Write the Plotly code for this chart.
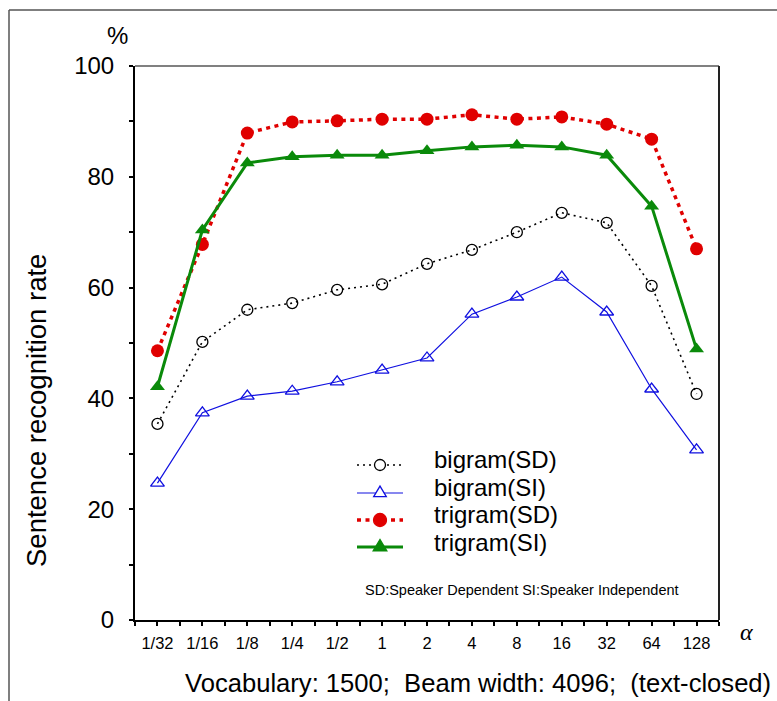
import plotly.graph_objects as go

# ---------------- data ----------------
categories = ["1/32", "1/16", "1/8", "1/4", "1/2", "1", "2", "4", "8", "16", "32", "64", "128"]
bigram_sd = [35.4, 50.2, 56.0, 57.2, 59.6, 60.6, 64.3, 66.8, 70.0, 73.5, 71.7, 60.3, 40.8]
bigram_si = [24.7, 37.4, 40.4, 41.3, 43.0, 45.1, 47.3, 55.2, 58.3, 61.9, 55.6, 41.7, 30.7]
trigram_sd = [48.6, 67.8, 87.9, 89.9, 90.1, 90.4, 90.4, 91.2, 90.4, 90.8, 89.5, 86.8, 67.0]
trigram_si = [42.1, 70.4, 82.5, 83.6, 83.9, 83.9, 84.7, 85.4, 85.7, 85.4, 83.9, 74.7, 48.9]
series_names = ["bigram(SD)", "bigram(SI)", "trigram(SD)", "trigram(SI)"]
y_ticks = [0, 20, 40, 60, 80, 100]

# ---------------- layout constants ----------------
W, H = 777, 701
ML, MR, MT, MB = 135, 58, 66, 81
PW = W - ML - MR
PH = H - MT - MB
FONT = "Liberation Sans, Arial, Helvetica, sans-serif"


def fx(xp):
    return (xp - ML) / PW


def fy(yp):
    return (MT + PH - yp) / PH


styles = [
    dict(line=dict(color="black", width=1.6, dash="2px,4px"),
         marker=dict(symbol="circle-open", size=11, color="black", line=dict(width=1.3))),
    dict(line=dict(color="#1010e0", width=1.2),
         marker=dict(symbol="triangle-up-open", size=12, color="#1010e0", line=dict(width=1.3))),
    dict(line=dict(color="#e00000", width=3.5, dash="4px,4.5px"),
         marker=dict(symbol="circle", size=13, color="#e00000")),
    dict(line=dict(color="#0a8a0a", width=3),
         marker=dict(symbol="triangle-up", size=13, color="#0a8a0a")),
]
values = [bigram_sd, bigram_si, trigram_sd, trigram_si]
xs = list(range(len(categories)))

fig = go.Figure()
for name, vals, st in zip(series_names, values, styles):
    fig.add_trace(go.Scatter(x=xs, y=vals, name=name, mode="lines+markers",
                             line=st["line"], marker=st["marker"], showlegend=False,
                             cliponaxis=False))

shapes = []
annotations = []

# plot frame top & right
shapes.append(dict(type="line", xref="paper", yref="paper", x0=0, x1=1, y0=1, y1=1,
                   line=dict(color="#808080", width=2)))
shapes.append(dict(type="line", xref="paper", yref="paper", x0=1, x1=1, y0=0, y1=1,
                   line=dict(color="#222222", width=2)))
# outer frame (left & top)
shapes.append(dict(type="line", xref="paper", yref="paper", x0=fx(9), x1=fx(9),
                   y0=fy(10), y1=fy(H + 5), line=dict(color="#555555", width=1.5)))
shapes.append(dict(type="line", xref="paper", yref="paper", x0=fx(9), x1=fx(W + 5),
                   y0=fy(10), y1=fy(10), line=dict(color="#555555", width=1.5)))

# manual legend
leg_line_y = [465, 493, 520, 547]
leg_text_y = [459, 487, 514, 542]
for i, (name, st) in enumerate(zip(series_names, styles)):
    ln = st["line"]
    shapes.append(dict(type="line", xref="paper", yref="paper",
                       x0=fx(357), x1=fx(403), y0=fy(leg_line_y[i]), y1=fy(leg_line_y[i]),
                       line=dict(color=ln["color"], width=ln["width"], dash=ln.get("dash", "solid"))))
    mk = st["marker"]
    cx, cy = fx(380), fy(leg_line_y[i])
    if mk["symbol"].startswith("circle"):
        r = mk["size"] / 2
        filled = not mk["symbol"].endswith("open")
        shapes.append(dict(type="circle", xref="paper", yref="paper",
                           xsizemode="pixel", ysizemode="pixel", xanchor=cx, yanchor=cy,
                           x0=-r, x1=r, y0=-r, y1=r,
                           fillcolor=mk["color"] if filled else "white",
                           line=dict(color=mk["color"], width=1.3)))
    else:
        s = mk["size"] / 2
        filled = not mk["symbol"].endswith("open")
        path = f"M{-s*1.05},{-s*0.6} L{s*1.05},{-s*0.6} L0,{s*1.15} Z"
        shapes.append(dict(type="path", xref="paper", yref="paper",
                           xsizemode="pixel", ysizemode="pixel", xanchor=cx, yanchor=cy,
                           path=path,
                           fillcolor=mk["color"] if filled else "white",
                           line=dict(color=mk["color"], width=1.3)))
    annotations.append(dict(text=name, xref="paper", yref="paper", x=fx(432), y=fy(leg_text_y[i]),
                            xanchor="left", yanchor="middle", showarrow=False,
                            font=dict(family=FONT, size=24, color="black")))

annotations += [
    dict(text="%", xref="paper", yref="paper", x=fx(117), y=fy(35), xanchor="center", yanchor="middle",
         showarrow=False, font=dict(family=FONT, size=24, color="black")),
    dict(text="Sentence recognition rate", xref="paper", yref="paper", x=fx(36), y=fy(411),
         xanchor="center", yanchor="middle", textangle=-90, showarrow=False,
         font=dict(family=FONT, size=27.5, color="black")),
    dict(text="<i>α</i>", xref="paper", yref="paper", x=fx(746), y=fy(632), xanchor="center",
         yanchor="middle", showarrow=False,
         font=dict(family="Liberation Serif, Times New Roman, serif", size=24, color="black")),
    dict(text="Vocabulary: 1500;\u00a0 Beam width: 4096;\u00a0 (text-closed)", xref="paper", yref="paper",
         x=fx(478), y=fy(683), xanchor="center", yanchor="middle", showarrow=False,
         font=dict(family=FONT, size=25.6, color="black")),
    dict(text="SD:Speaker Dependent SI:Speaker Independent", xref="paper", yref="paper",
         x=fx(522), y=fy(590), xanchor="center", yanchor="middle", showarrow=False,
         font=dict(family=FONT, size=14.5, color="black")),
]

fig.update_layout(
    width=W, height=H,
    margin=dict(l=ML, r=MR, t=MT, b=MB, pad=0),
    paper_bgcolor="white", plot_bgcolor="white",
    shapes=shapes, annotations=annotations,
    font=dict(family=FONT, color="black"),
    xaxis=dict(range=[-0.5, len(categories) - 0.5], tickvals=xs, ticktext=categories,
               showgrid=False, zeroline=False, showline=True, linecolor="black", linewidth=2,
               ticks="outside", ticklen=4, tickwidth=1.5, tickcolor="black",
               tickfont=dict(family=FONT, size=16.5, color="black"), ticklabelstandoff=3,
               minor=dict(tickvals=[i - 0.5 for i in range(len(categories) + 1)],
                          ticks="outside", ticklen=4, tickwidth=1.5, tickcolor="black")),
    yaxis=dict(range=[0, 100], tickvals=y_ticks, showgrid=False, zeroline=False,
               showline=True, linecolor="black", linewidth=2,
               ticks="outside", ticklen=4, tickwidth=1.5, tickcolor="black",
               tickfont=dict(family=FONT, size=24, color="black"), ticklabelstandoff=10,
               minor=dict(tickvals=[10, 30, 50, 70, 90], ticks="outside", ticklen=4,
                          tickwidth=1.5, tickcolor="black")),
)

fig.write_html("out.html")
